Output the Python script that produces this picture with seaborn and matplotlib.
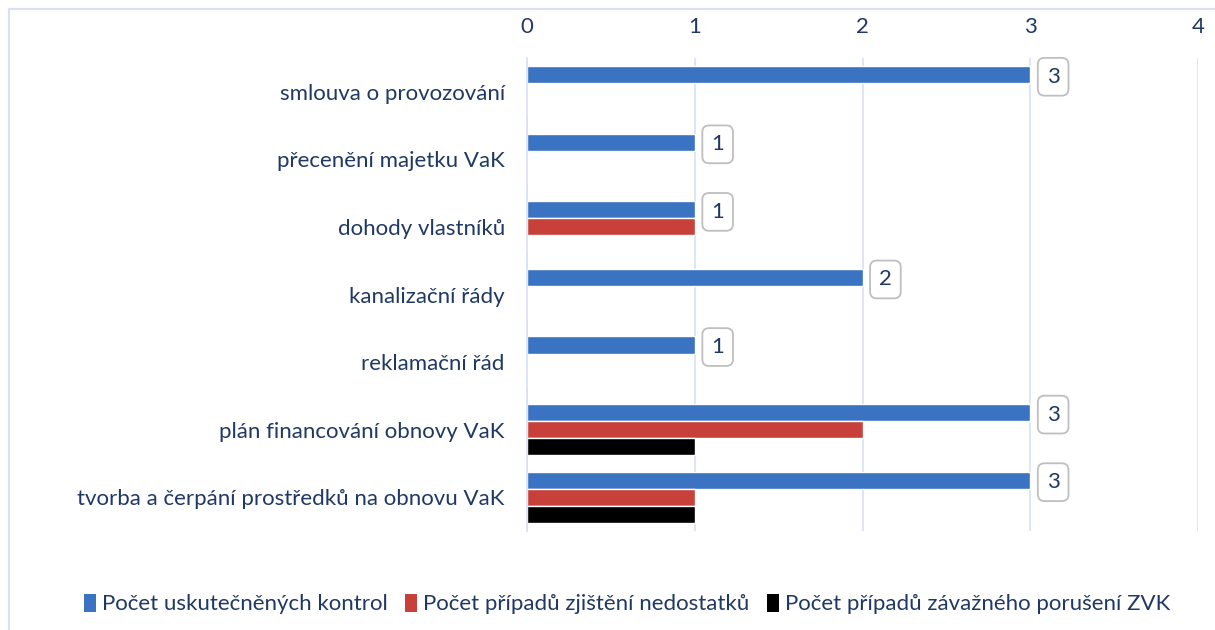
import pandas as pd
import matplotlib.pyplot as plt
import seaborn as sns
from matplotlib.patches import Rectangle, Patch

kategorie = ["smlouva o provozování", "přecenění majetku VaK", "dohody vlastníků",
             "kanalizační řády", "reklamační řád", "plán financování obnovy VaK",
             "tvorba a čerpání prostředků na obnovu VaK"]
serie = ["Počet uskutečněných kontrol", "Počet případů zjištění nedostatků",
         "Počet případů závažného porušení ZVK"]
kontroly = [3, 1, 1, 2, 1, 3, 3]
nedostatky = [0, 0, 1, 0, 0, 2, 1]
poruseni = [0, 0, 0, 0, 0, 1, 1]
barvy = ["#3A73C2", "#C8403A", "#000000"]
text_barva = "#1F3864"

rows = []
for i, k in enumerate(kategorie):
    for s, vals in zip(serie, [kontroly, nedostatky, poruseni]):
        rows.append({"kategorie": k, "serie": s, "pocet": vals[i]})
df = pd.DataFrame(rows)

sns.set_style("white")
plt.rcParams['font.family'] = ['Lato', 'DejaVu Sans']

fig = plt.figure(figsize=(12.15, 6.3), dpi=100)
ax = fig.add_axes([527 / 1215, 1 - 531 / 630, (1198 - 527) / 1215, (531 - 58) / 630])

sns.barplot(data=df, y="kategorie", x="pocet", hue="serie", hue_order=serie,
            order=kategorie, palette=barvy, orient="h", width=0.76,
            saturation=1, ax=ax, legend=False)

ax.set_xlim(0, 4)
ax.set_xticks([0, 1, 2, 3, 4])
ax.xaxis.tick_top()
ax.tick_params(axis="x", length=0, pad=15, labelsize=16, labelcolor=text_barva)
ax.tick_params(axis="y", length=0, pad=16, labelsize=16, labelcolor=text_barva)
ax.set_xlabel("")
ax.set_ylabel("")
ax.grid(axis="x", color="#D6E1F2", linewidth=1.2)
ax.set_axisbelow(True)
for side in ["top", "right", "bottom"]:
    ax.spines[side].set_visible(False)
ax.spines["left"].set_color("#D6E1F2")
ax.spines["left"].set_linewidth(1.2)

# popisky u modrych sloupcu
blue_bars = ax.containers[0]
for bar, v in zip(blue_bars, kontroly):
    y = bar.get_y() + bar.get_height() / 2
    ax.annotate(str(v), xy=(v, y), xytext=(16.5, -1.5), textcoords="offset points",
                ha="center", va="center", fontsize=16, color=text_barva,
                bbox=dict(boxstyle="round,pad=0.4,rounding_size=0.3",
                          fc="white", ec="#BFBFBF", lw=1.3),
                annotation_clip=False)

# ramecek
fig.patches.append(Rectangle((9 / 1215, -0.1), 1.2, 1 - 9 / 630 + 0.1,
                             transform=fig.transFigure, fill=False,
                             ec="#D6E1F2", lw=1.5))

handles = [Patch(facecolor=c, edgecolor="none") for c in barvy]
leg = fig.legend(handles, serie, loc="center", bbox_to_anchor=(627 / 1215, 1 - 604 / 630),
                 ncol=3, frameon=False, fontsize=16, handlelength=0.55,
                 handleheight=0.9, handletextpad=0.25, columnspacing=0.8)
for t in leg.get_texts():
    t.set_color(text_barva)

fig.savefig("out.png", dpi=100)
